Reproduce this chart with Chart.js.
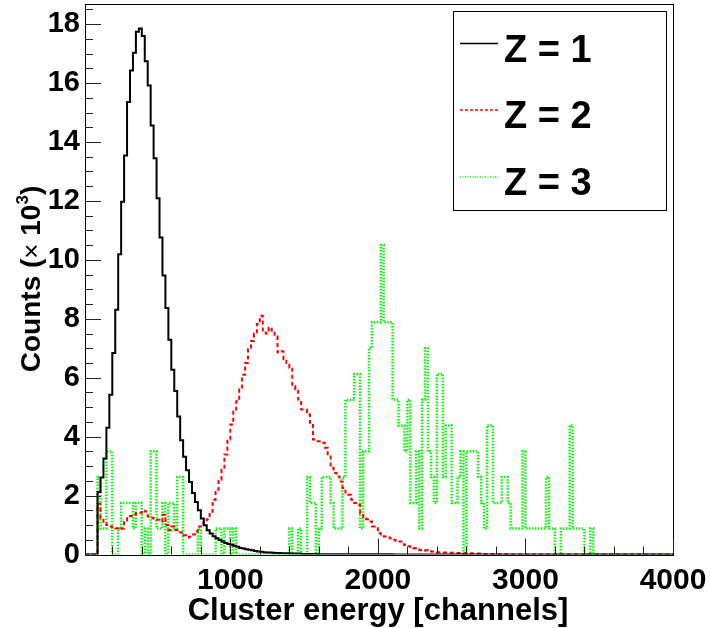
<!DOCTYPE html>
<html>
<head>
<meta charset="utf-8">
<script src="https://cdn.jsdelivr.net/npm/chart.js@4.4.1/dist/chart.umd.min.js"></script>
<style>
  html, body { margin: 0; padding: 0; background: #fff; }
  #c { display: block; }
</style>
</head>
<body>
<canvas id="c" width="710" height="628"></canvas>
<script>
// ---- axis ranges and tick labels ----
const X_MIN = 15;
const X_MAX = 4000;
const Y_MIN = 0;
const Y_MAX = 18.7;
const xTickValues = [1000, 2000, 3000, 4000];
const yTickValues = [0, 2, 4, 6, 8, 10, 12, 14, 16, 18];
const X_MINOR_STEP = 200;
const Y_MINOR_STEP = 0.5;

// ---- histogram binning (channels) ----
const BIN_START = 100;
const BIN_WIDTH = 20;

// ---- series labels ----
const seriesLabels = ['Z = 1', 'Z = 2', 'Z = 3'];

// ---- counts (x 10^3) per bin ----
const countsZ1 = [
  2.12, 2.61, 3.26, 4.30, 5.42, 6.84, 8.31, 10.19, 11.97, 13.54,
  15.36, 16.43, 17.03, 17.74, 17.85, 17.60, 16.74, 15.92, 14.56, 13.45,
  12.09, 10.76, 9.47, 8.37, 7.29, 6.27, 5.55, 4.68, 3.88, 3.32,
  2.86, 2.46, 2.09, 1.78, 1.50, 1.22, 0.99, 0.82, 0.71, 0.62,
  0.55, 0.49, 0.44, 0.39, 0.36, 0.33, 0.30, 0.26, 0.22, 0.20,
  0.18, 0.16, 0.14, 0.12, 0.10, 0.09, 0.08, 0.07, 0.07, 0.06,
  0.05, 0.05, 0.04, 0.04, 0.04, 0.03, 0.03, 0.03, 0.03, 0.02,
  0.02, 0.02, 0.02, 0.02, 0.02, 0.01, 0.01, 0.01, 0.01, 0.01,
  0.01, 0.01, 0.01, 0.01, 0.01, 0.01, 0.01, 0.01, 0.01, 0.01,
  0.01, 0.01, 0.01, 0.01, 0.01, 0.01, 0.01, 0.01, 0.01, 0.01
];

const countsZ2 = [
  1.72, 1.23, 1.06, 1.00, 0.95, 0.91, 0.89, 0.86, 0.88, 1.15,
  1.23, 1.31, 1.36, 1.40, 1.42, 1.49, 1.46, 1.29, 1.25, 1.21,
  1.18, 1.12, 1.35, 1.00, 0.83, 0.95, 0.83, 0.83, 0.75, 0.65,
  0.58, 0.60, 0.68, 0.78, 0.95, 1.05, 1.12, 1.20, 1.45, 1.86,
  2.20, 2.54, 2.88, 3.39, 3.90, 4.41, 4.92, 5.20, 5.60, 6.10,
  6.50, 6.97, 7.25, 7.50, 7.82, 8.10, 7.60, 7.50, 7.70, 7.60,
  7.40, 6.86, 6.90, 6.63, 6.50, 6.34, 5.72, 5.60, 5.26, 4.92,
  4.92, 4.75, 4.47, 3.90, 3.84, 3.84, 3.79, 3.62, 3.33, 2.94,
  2.77, 2.65, 2.48, 2.26, 2.10, 2.03, 1.86, 1.75, 1.69, 1.40,
  1.23, 1.20, 1.12, 0.95, 0.95, 0.72, 0.68, 0.61, 0.58, 0.55,
  0.50, 0.46, 0.44, 0.35, 0.32, 0.28, 0.22, 0.21, 0.18, 0.15,
  0.13, 0.14, 0.12, 0.10, 0.09, 0.08, 0.08, 0.07, 0.07, 0.06,
  0.06, 0.05, 0.05, 0.05, 0.04, 0.04, 0.04, 0.03, 0.03, 0.03,
  0.02, 0.02, 0.02, 0.02, 0.01, 0.01, 0.01, 0.01, 0.01, 0.01
];

const countsZ3 = [
  2.63, 0.88, 0.88, 3.50, 3.50, 0, 0, 0.88, 1.75, 1.75,
  1.75, 1.75, 0.88, 1.75, 1.75, 0, 0.88, 0, 3.50, 3.50,
  0.88, 0.88, 1.75, 0, 1.75, 1.75, 0.88, 2.63, 2.63, 0,
  0, 0, 0, 0, 0.88, 0, 0, 0, 0, 0,
  0.88, 0.88, 0, 0.88, 0.88, 0, 0.88, 0, 0, 0,
  0, 0, 0, 0, 0, 0, 0, 0, 0, 0,
  0, 0, 0, 0, 0, 0.88, 0, 0, 0.88, 0,
  0, 2.63, 1.75, 1.75, 0, 0.88, 2.63, 2.63, 2.63, 1.75,
  0.88, 0.88, 0.88, 2.63, 5.25, 5.25, 5.25, 6.13, 6.13, 0.88,
  3.50, 3.50, 7.00, 7.88, 7.88, 7.88, 10.50, 7.88, 7.88, 7.88,
  5.25, 5.25, 4.38, 4.38, 3.50, 5.25, 1.75, 1.75, 3.50, 0.88,
  5.25, 7.00, 3.50, 2.63, 1.75, 6.13, 6.13, 2.63, 4.38, 4.38,
  1.75, 1.75, 2.63, 3.50, 0, 3.50, 3.50, 3.50, 3.50, 2.63,
  1.75, 0.88, 4.38, 4.38, 1.75, 1.75, 1.75, 2.63, 2.63, 1.75,
  0.88, 0.88, 0.88, 0.88, 3.50, 0.88, 0.88, 0.88, 0.88, 0.88,
  0.88, 0.88, 2.63, 0.88, 0.88, 0, 0, 0.88, 0.88, 0.88,
  4.38, 0.88, 0.88, 0.88, 0.88, 0, 0, 0.88
];

// Build histogram step points (left bin edges) from the bin contents
function histPoints(values) {
  const pts = [{ x: X_MIN, y: 0 }];
  values.forEach((v, i) => pts.push({ x: BIN_START + i * BIN_WIDTH, y: v }));
  pts.push({ x: BIN_START + values.length * BIN_WIDTH, y: 0 });
  pts.push({ x: X_MAX, y: 0 });
  return pts;
}

const FONT = '"Liberation Sans", Arial, Helvetica, sans-serif';

const rootStyle = {
  id: 'rootStyle',
  afterDatasetsDraw(chart) {
    const ctx = chart.ctx;
    const a = chart.chartArea;
    const xs = chart.scales.x, ys = chart.scales.y;
    ctx.save();
    // frame
    ctx.strokeStyle = '#000';
    ctx.lineWidth = 1;
    ctx.strokeRect(Math.round(a.left) + 0.5, Math.round(a.top) + 0.5,
                   Math.round(a.right - a.left), Math.round(a.bottom - a.top));
    // x ticks (inward)
    ctx.beginPath();
    for (let v = X_MINOR_STEP; v <= X_MAX; v += X_MINOR_STEP) {
      if (v < X_MIN) continue;
      const px = Math.round(xs.getPixelForValue(v)) + 0.5;
      const major = xTickValues.includes(v);
      ctx.moveTo(px, a.bottom);
      ctx.lineTo(px, a.bottom - (major ? 16 : 8));
    }
    // y ticks (inward)
    for (let v = Y_MIN; v <= Y_MAX + 1e-9; v += Y_MINOR_STEP) {
      const py = Math.round(ys.getPixelForValue(v)) + 0.5;
      const major = yTickValues.includes(Math.round(v * 100) / 100);
      ctx.moveTo(a.left, py);
      ctx.lineTo(a.left + (major ? 16 : 8), py);
    }
    ctx.strokeStyle = '#222';
    ctx.lineWidth = 1;
    ctx.stroke();
    ctx.restore();
  },
  afterDraw(chart) {
    const ctx = chart.ctx;
    const a = chart.chartArea;
    ctx.save();
    // ---- legend box ----
    const lx0 = 453, ly0 = 11, lx1 = 666, ly1 = 210;
    ctx.fillStyle = '#fff';
    ctx.fillRect(lx0, ly0, lx1 - lx0, ly1 - ly0);
    ctx.strokeStyle = '#000';
    ctx.lineWidth = 1;
    ctx.strokeRect(lx0 + 0.5, ly0 + 0.5, lx1 - lx0, ly1 - ly0);
    const rowsY = [43.5, 110, 177];
    chart.data.datasets.forEach((ds, i) => {
      const y = rowsY[i];
      ctx.beginPath();
      ctx.setLineDash(ds.legendDash || []);
      ctx.strokeStyle = ds.borderColor;
      ctx.lineWidth = 1.5;
      ctx.moveTo(460, y);
      ctx.lineTo(498, y);
      ctx.stroke();
      ctx.setLineDash([]);
      ctx.fillStyle = '#000';
      ctx.font = 'bold 38px ' + FONT;
      ctx.textAlign = 'left';
      ctx.textBaseline = 'alphabetic';
      ctx.fillText(ds.label, 504, y + 18);
    });
    // ---- x title ----
    ctx.fillStyle = '#000';
    ctx.font = 'bold 31px ' + FONT;
    ctx.textAlign = 'center';
    ctx.textBaseline = 'alphabetic';
    ctx.fillText('Cluster energy [channels]', 378, 620);
    // ---- y title (rotated) with superscript ----
    const parts = [
      { t: 'Counts (', f: 'bold 28px ' + FONT, dy: 0 },
      { t: '\u00D7', f: '26px ' + FONT, dy: 0 },
      { t: ' 10', f: 'bold 28px ' + FONT, dy: 0 },
      { t: '3', f: 'bold 17px ' + FONT, dy: -12 },
      { t: ')', f: 'bold 28px ' + FONT, dy: 0 }
    ];
    let total = 0;
    parts.forEach(p => { ctx.font = p.f; p.w = ctx.measureText(p.t).width; total += p.w; });
    ctx.translate(40, (a.top + a.bottom) / 2);
    ctx.rotate(-Math.PI / 2);
    let xx = -total / 2;
    ctx.textAlign = 'left';
    parts.forEach(p => { ctx.font = p.f; ctx.fillText(p.t, xx, p.dy); xx += p.w; });
    ctx.restore();
  }
};

new Chart(document.getElementById('c'), {
  type: 'line',
  data: {
    datasets: [
      {
        label: seriesLabels[0],
        data: histPoints(countsZ1),
        borderColor: '#000000',
        borderWidth: 2,
        legendDash: [],
        stepped: true, pointRadius: 0, fill: false
      },
      {
        label: seriesLabels[1],
        data: histPoints(countsZ2),
        borderColor: '#ff0000',
        borderWidth: 2,
        borderDash: [4, 3],
        legendDash: [3, 2],
        stepped: true, pointRadius: 0, fill: false
      },
      {
        label: seriesLabels[2],
        data: histPoints(countsZ3),
        borderColor: '#00ff00',
        borderWidth: 2.5,
        borderDash: [1.5, 1.5],
        legendDash: [1, 1.5],
        stepped: true, pointRadius: 0, fill: false
      }
    ]
  },
  options: {
    responsive: false,
    animation: false,
    devicePixelRatio: 1,
    layout: { padding: { top: 3.5, right: 37, left: 0, bottom: 0 } },
    plugins: { legend: { display: false }, tooltip: { enabled: false } },
    scales: {
      x: {
        type: 'linear',
        min: X_MIN, max: X_MAX,
        grid: { display: false, drawTicks: false },
        border: { display: false },
        afterBuildTicks: s => { s.ticks = xTickValues.map(v => ({ value: v })); },
        afterFit: s => { s.height = 73.5; s.paddingLeft = 0; s.paddingRight = 0; },
        ticks: {
          autoSkip: false, maxRotation: 0, padding: 8,
          color: '#000',
          font: { family: FONT, size: 30, weight: 'bold' },
          callback: v => String(v)
        }
      },
      y: {
        min: Y_MIN, max: Y_MAX,
        grid: { display: false, drawTicks: false },
        border: { display: false },
        afterBuildTicks: s => { s.ticks = yTickValues.map(v => ({ value: v })); },
        afterFit: s => { s.width = 85; s.paddingTop = 0; s.paddingBottom = 0; },
        ticks: {
          autoSkip: false, padding: 5,
          color: '#000',
          font: { family: FONT, size: 29, weight: 'bold' },
          callback: v => String(v)
        }
      }
    }
  },
  plugins: [rootStyle]
});
</script>
</body>
</html>
